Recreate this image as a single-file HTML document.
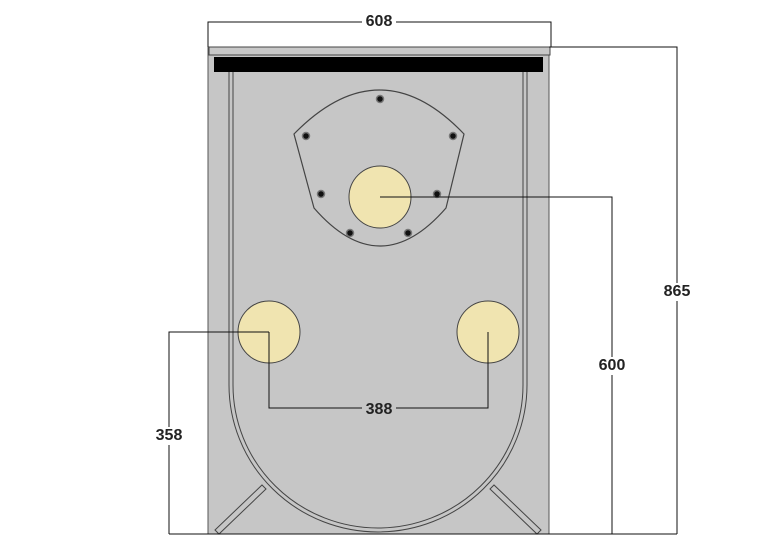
<!DOCTYPE html>
<html><head><style>body{margin:0;background:#fff}svg{display:block}text{font-family:"Liberation Sans",sans-serif;font-size:16px;font-weight:bold;fill:#222;text-anchor:middle;dominant-baseline:middle}</style></head><body>
<svg width="760" height="550" viewBox="0 0 760 550">
<rect x="208" y="47" width="341" height="487" fill="#c6c6c6" stroke="#555" stroke-width="1"/>
<rect x="209" y="47" width="341" height="8" fill="#c8c8c8" stroke="#444" stroke-width="1"/>
<rect x="214" y="57" width="329" height="15" fill="#000"/>
<path d="M229 72 V385 A149 147 0 0 0 527 385 V72" fill="none" stroke="#444" stroke-width="1"/>
<path d="M233 72 V385 A145 143 0 0 0 523 385 V72" fill="none" stroke="#444" stroke-width="1"/>
<path d="M215 530 L262 485 L266 489 L219 534 Z" fill="#c6c6c6" stroke="#444"/>
<path d="M541 530 L494 485 L490 489 L537 534 Z" fill="#c6c6c6" stroke="#444"/>
<path d="M294 134 Q380 46 464 134 L446 208 Q380 284 314 208 Z" fill="#c6c6c6" stroke="#444" stroke-width="1.2"/>
<g fill="#111" stroke="#777" stroke-width="1.5">
<circle cx="380" cy="99" r="3.5"/><circle cx="306" cy="136" r="3.5"/><circle cx="453" cy="136" r="3.5"/>
<circle cx="321" cy="194" r="3.5"/><circle cx="437" cy="194" r="3.5"/><circle cx="350" cy="233" r="3.5"/><circle cx="408" cy="233" r="3.5"/>
</g>
<g fill="#f0e4b0" stroke="#444" stroke-width="1">
<circle cx="380" cy="197" r="31"/><circle cx="269" cy="332" r="31"/><circle cx="488" cy="332" r="31"/>
</g>
<g fill="none" stroke="#111" stroke-width="1">
<path d="M380 197 H612 V534"/>
<path d="M269 332 V408 H488 V332"/>
<path d="M269 332 H169 V534"/>
<path d="M549 47 H677 V534"/>
<path d="M169 534 H677"/>
<path d="M208 47 V22 H551 V47"/>
</g>
<g>
<rect x="362" y="13" width="34" height="18" fill="#fff"/><text x="379" y="22">608</text>
<rect x="660" y="283" width="34" height="18" fill="#fff"/><text x="677" y="292">865</text>
<rect x="595" y="357" width="34" height="18" fill="#fff"/><text x="612" y="366">600</text>
<rect x="152" y="427" width="34" height="18" fill="#fff"/><text x="169" y="436">358</text>
<rect x="362" y="401" width="34" height="18" fill="#c6c6c6"/><text x="379" y="410">388</text>
</g>
</svg>
</body></html>
